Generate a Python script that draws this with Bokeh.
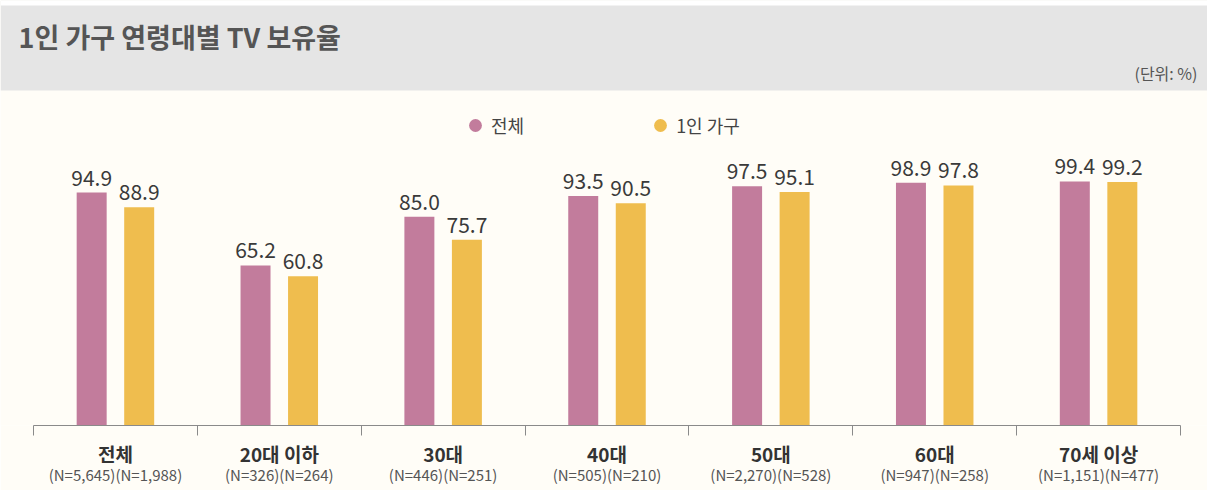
from bokeh.plotting import figure
from bokeh.models import (ColumnDataSource, FixedTicker, LinearAxis, Label,
                          BoxAnnotation, Legend, LegendItem, Range1d)
from bokeh.transform import dodge
from bokeh.embed import file_html
from bokeh.resources import INLINE
from bokeh.core.properties import value

# ---------------- data ----------------
categories = ["전체", "20대 이하", "30대", "40대", "50대", "60대", "70세 이상"]
n_labels = ["(N=5,645)(N=1,988)", "(N=326)(N=264)", "(N=446)(N=251)",
            "(N=505)(N=210)", "(N=2,270)(N=528)", "(N=947)(N=258)",
            "(N=1,151)(N=477)"]
total = [94.9, 65.2, 85.0, 93.5, 97.5, 98.9, 99.4]
single = [88.9, 60.8, 75.7, 90.5, 95.1, 97.8, 99.2]
series_names = ["전체", "1인 가구"]
title_text = "1인 가구 연령대별 TV 보유율"
unit_text = "(단위: %)"

# ---------------- style / layout ----------------
FONT = "Noto Sans CJK KR"
PINK = "#c27c9c"
YELLOW = "#efbd4e"
BG = "#fffdf7"
BAND = "#e5e5e5"

W, H = 1207, 490
FRAME_BOTTOM = 425          # px from top of canvas where the axis line sits
PX_PER_UNIT = 2.455
CAT_LEFT, CAT_RIGHT = 33, 1180
n = len(categories)
cat_w = (CAT_RIGHT - CAT_LEFT) / n
x_start = 0.5 - CAT_LEFT / cat_w
x_end = n + 0.5 + (W - CAT_RIGHT) / cat_w
y_end = FRAME_BOTTOM / PX_PER_UNIT

OFF = 0.145
BAR_W = 0.183

xs = list(range(1, n + 1))
src = ColumnDataSource(dict(
    x=xs, total=total, single=single,
    total_lbl=[f"{v:.1f}" for v in total],
    single_lbl=[f"{v:.1f}" for v in single],
))

p = figure(width=W, height=H, x_range=Range1d(x_start, x_end),
           y_range=Range1d(0, y_end), output_backend="svg",
           toolbar_location=None, x_axis_type=None, y_axis_type=None,
           min_border_left=0, min_border_right=0, min_border_top=0,
           min_border_bottom=H - FRAME_BOTTOM,
           background_fill_color=BG, border_fill_color=BG,
           outline_line_color=None)
p.grid.visible = False

# header band
p.add_layout(BoxAnnotation(bottom=FRAME_BOTTOM - 90, bottom_units="screen",
                           fill_color=BAND, fill_alpha=1.0, line_color=None,
                           level="underlay"))
p.add_layout(BoxAnnotation(bottom=FRAME_BOTTOM - 5, bottom_units="screen",
                           fill_color="white", fill_alpha=1.0, line_color=None,
                           level="underlay"))
p.add_layout(Label(x=18, y=FRAME_BOTTOM - 36, x_units="screen", y_units="screen",
                   text=title_text, text_font=FONT, text_font_size="27px",
                   text_font_style="bold", text_color="#555555",
                   text_baseline="middle"))
p.add_layout(Label(x=1197, y=FRAME_BOTTOM - 72, x_units="screen", y_units="screen",
                   text=unit_text, text_font=FONT, text_font_size="16px",
                   text_color="#555555", text_align="right",
                   text_baseline="middle"))

# bars
p.vbar(x=dodge("x", -OFF), top="total", width=BAR_W, source=src,
       fill_color=PINK, line_color=None)
p.vbar(x=dodge("x", OFF), top="single", width=BAR_W, source=src,
       fill_color=YELLOW, line_color=None)

# value labels
for col, lbl, off in (("total", "total_lbl", -OFF), ("single", "single_lbl", OFF)):
    p.text(x=dodge("x", off), y=col, text=lbl, source=src, text_align="center",
           text_baseline="bottom", y_offset=-7, text_font=value(FONT),
           text_font_size="21px", text_color="#3a3a3a")

# legend (one hidden point each, below the visible range, to draw legend glyphs)
r1 = p.scatter(x=[xs[0]], y=[-50], marker="circle", size=12, fill_color=PINK, line_color=None)
r2 = p.scatter(x=[xs[0]], y=[-50], marker="circle", size=12, fill_color=YELLOW, line_color=None)
legend = Legend(items=[LegendItem(label=series_names[0], renderers=[r1]),
                       LegendItem(label=series_names[1], renderers=[r2])],
                orientation="horizontal", location=(459, FRAME_BOTTOM - 141),
                spacing=120, glyph_width=32, glyph_height=32, label_standoff=0,
                label_text_font=FONT, label_text_font_size="18px",
                label_text_color="#444444", background_fill_alpha=0,
                border_line_color=None, padding=0, margin=0)
p.add_layout(legend, "center")

# axes: line + boundary ticks (minor) and category names (major labels)
ax2 = LinearAxis(ticker=FixedTicker(ticks=xs, minor_ticks=[i + 0.5 for i in range(n + 1)]),
                 bounds=(0.5, n + 0.5),
                 major_label_overrides={x: c for x, c in zip(xs, categories)},
                 axis_line_color="#8a8a8a", major_tick_line_color=None,
                 major_tick_in=0, major_tick_out=10,
                 minor_tick_line_color="#8a8a8a", minor_tick_in=0, minor_tick_out=10,
                 major_label_standoff=4, major_label_text_font=FONT,
                 major_label_text_font_size="19px",
                 major_label_text_font_style="bold",
                 major_label_text_color="#333333")
ax3 = LinearAxis(ticker=FixedTicker(ticks=xs),
                 major_label_overrides={x: c for x, c in zip(xs, n_labels)},
                 axis_line_color=None, major_tick_line_color=None,
                 minor_tick_line_color=None, major_tick_in=0, major_tick_out=0,
                 major_label_standoff=-6, major_label_text_font=FONT,
                 major_label_text_font_size="15px",
                 major_label_text_color="#555555")
p.add_layout(ax2, "below")
p.add_layout(ax3, "below")

open("out.html", "w").write(file_html(p, INLINE))
